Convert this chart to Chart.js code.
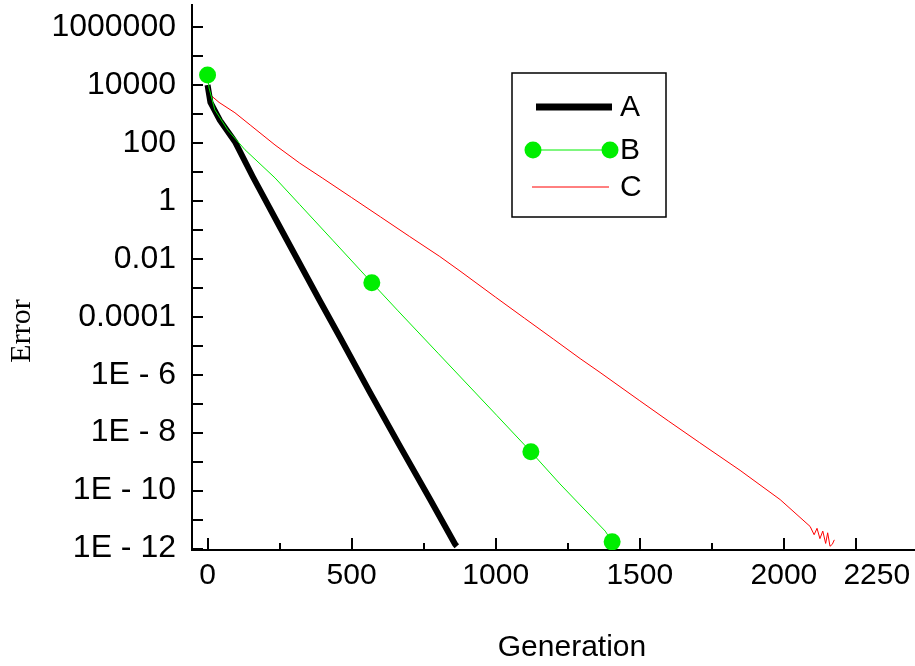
<!DOCTYPE html>
<html>
<head>
<meta charset="utf-8">
<script src="https://cdn.jsdelivr.net/npm/chart.js@4.4.0/dist/chart.umd.min.js"></script>
<style>
  body { margin: 0; background: #fff; }
  canvas { display: block; }
</style>
</head>
<body>
<canvas id="myChart" width="915" height="666"></canvas>
<script>
// series A (black, thick)
const genA = [0, 10, 43, 95, 157, 250, 390, 459, 563, 667, 772, 859, 865];
const errA = [1e4, 2.5e3, 6e2, 1.1e2, 6.8, 0.13, 3.5e-4, 2e-5, 2.5e-7, 3.5e-9, 5e-11, 1.4e-12, 1.2e-12];

// series B (green, markers on a few points)
const genB = [0, 5, 25, 70, 130, 234, 320, 436, 570, 661, 800, 1004, 1122, 1223, 1380, 1404];
const errB = [2.2e4, 8e3, 1.4e3, 2.8e2, 58, 6.2, 0.74, 4.2e-2, 1.5e-3, 1.6e-4, 5.5e-6, 3.9e-8, 2.2e-9, 1.7e-10, 4e-12, 1.7e-12];
const markerGensB = [0, 570, 1122, 1404];

// series C (red, thin)
const genC = [0, 10, 40, 95, 150, 234, 320, 400, 500, 600, 700, 806, 876, 1000, 1100, 1200, 1293, 1362, 1500, 1600, 1708, 1848, 1987, 2091, 2105, 2115, 2125, 2135, 2145, 2152, 2160, 2168, 2175];
const errC = [7e3, 4.5e3, 2.5e3, 1.1e3, 4e2, 85, 20, 6, 1.3, 0.28, 6e-2, 1.2e-2, 3.8e-3, 4.7e-4, 8.9e-5, 1.7e-5, 3.6e-6, 1.2e-6, 1.26e-7, 2.5e-8, 4.5e-9, 5e-10, 4.9e-11, 5.8e-12, 3e-12, 5e-12, 2.2e-12, 4e-12, 1.5e-12, 3.5e-12, 1.2e-12, 1.4e-12, 2e-12];

// axis ticks
const xTicks = [0, 250, 500, 750, 1000, 1250, 1500, 1750, 2000, 2250];
const xLabels = ["0", "", "500", "", "1000", "", "1500", "", "2000", "     2250"];
const yTicks = [1e-12, 1e-11, 1e-10, 1e-9, 1e-8, 1e-7, 1e-6, 1e-5, 1e-4, 1e-3, 1e-2, 1e-1, 1, 10, 100, 1e3, 1e4, 1e5, 1e6];
const yLabels = ["1E - 12", "", "1E - 10", "", "1E - 8", "", "1E - 6", "", "0.0001", "", "0.01", "", "1", "", "100", "", "10000", "", "1000000"];

const legendItems = ["A", "B", "C"];

const toPoints = (xs, ys) => xs.map((x, i) => ({ x: x, y: ys[i] }));
const sans = "'Liberation Sans', Arial, sans-serif";

// inward tick marks
const tickMarks = {
    id: "tickMarks",
    afterDraw(chart) {
        const ctx = chart.ctx;
        const xs = chart.scales.x;
        const ys = chart.scales.y;
        const area = chart.chartArea;
        ctx.save();
        ctx.strokeStyle = "#000";
        ctx.lineWidth = 2;
        ctx.beginPath();
        xTicks.forEach((v, i) => {
            let px = Math.round(xs.getPixelForValue(v));
            let len = xLabels[i] ? 12 : 7;
            ctx.moveTo(px, area.bottom);
            ctx.lineTo(px, area.bottom - len);
        });
        yTicks.forEach((v) => {
            let py = Math.round(ys.getPixelForValue(v));
            ctx.moveTo(area.left, py);
            ctx.lineTo(area.left + 11, py);
        });
        ctx.stroke();
        ctx.restore();
    },
};

// axis titles + legend box
const extras = {
    id: "extras",
    afterDraw(chart) {
        const ctx = chart.ctx;
        ctx.save();
        ctx.fillStyle = "#000";
        ctx.font = "30px " + sans;
        ctx.textAlign = "center";
        ctx.textBaseline = "middle";
        ctx.fillText("Generation", 572, 648);

        ctx.save();
        ctx.translate(22, 331);
        ctx.rotate(-Math.PI / 2);
        ctx.font = "30px 'Liberation Serif', 'Times New Roman', serif";
        ctx.fillText("Error", 0, 0);
        ctx.restore();

        // legend
        ctx.strokeStyle = "#000";
        ctx.lineWidth = 1.5;
        ctx.strokeRect(512, 73, 154, 144);
        const rows = [107, 150, 187];
        ctx.textAlign = "left";
        ctx.font = "30px " + sans;
        // A
        ctx.strokeStyle = "#000";
        ctx.lineWidth = 7;
        ctx.beginPath();
        ctx.moveTo(536, rows[0]);
        ctx.lineTo(612, rows[0]);
        ctx.stroke();
        // B
        ctx.strokeStyle = "#00ee00";
        ctx.lineWidth = 1;
        ctx.beginPath();
        ctx.moveTo(533, rows[1]);
        ctx.lineTo(610, rows[1]);
        ctx.stroke();
        ctx.fillStyle = "#00ee00";
        [533, 610].forEach((cx) => {
            ctx.beginPath();
            ctx.arc(cx, rows[1], 8.5, 0, Math.PI * 2);
            ctx.fill();
        });
        // C
        ctx.strokeStyle = "#ff0000";
        ctx.lineWidth = 1;
        ctx.beginPath();
        ctx.moveTo(532, rows[2]);
        ctx.lineTo(609, rows[2]);
        ctx.stroke();

        ctx.fillStyle = "#000";
        legendItems.forEach((t, i) => ctx.fillText(t, 620, rows[i] + 1));
        ctx.restore();
    },
};

const data = {
    datasets: [
        {
            label: "B",
            data: toPoints(genB, errB),
            borderColor: "#00ee00",
            backgroundColor: "#00ee00",
            borderWidth: 1,
            pointRadius: (c) => (markerGensB.includes(genB[c.dataIndex]) ? 8.5 : 0),
            pointBorderWidth: 0,
            order: 0,
        },
        {
            label: "A",
            data: toPoints(genA, errA),
            borderColor: "#000",
            borderWidth: 6,
            pointRadius: 0,
            borderJoinStyle: "round",
            order: 1,
        },
        {
            label: "C",
            data: toPoints(genC, errC),
            borderColor: "#ff0000",
            borderWidth: 1,
            pointRadius: 0,
            order: 2,
        },
    ],
};

const config = {
    type: "line",
    data: data,
    options: {
        responsive: false,
        animation: false,
        layout: { autoPadding: false, padding: { top: 5, right: 0, left: 0, bottom: 0 } },
        plugins: {
            legend: { display: false },
            tooltip: { enabled: false },
        },
        scales: {
            x: {
                type: "linear",
                min: -54,
                max: 2455,
                grid: { display: false },
                border: { display: true, color: "#000", width: 2 },
                afterBuildTicks: (s) => { s.ticks = xTicks.map((v) => ({ value: v })); },
                afterFit: (s) => {
                    s.height = 116;
                    s.paddingLeft = 0;
                    s.paddingRight = 0;
                },
                ticks: {
                    color: "#000",
                    font: { family: sans, size: 30 },
                    padding: 0,
                    maxRotation: 0,
                    autoSkip: false,
                    callback: (v, i) => xLabels[i],
                },
            },
            y: {
                type: "logarithmic",
                min: Math.pow(10, -12.05),
                max: Math.pow(10, 6.76),
                grid: { display: false },
                border: { display: true, color: "#000", width: 2 },
                afterBuildTicks: (s) => { s.ticks = yTicks.map((v) => ({ value: v })); },
                afterFit: (s) => {
                    s.width = 192;
                    s.paddingTop = 0;
                    s.paddingBottom = 0;
                },
                ticks: {
                    color: "#000",
                    font: { family: sans, size: 32 },
                    padding: 8,
                    autoSkip: false,
                    callback: (v, i) => yLabels[i],
                },
            },
        },
    },
    plugins: [tickMarks, extras],
};

const myChart = new Chart(document.getElementById("myChart"), config);
</script>
</body>
</html>
